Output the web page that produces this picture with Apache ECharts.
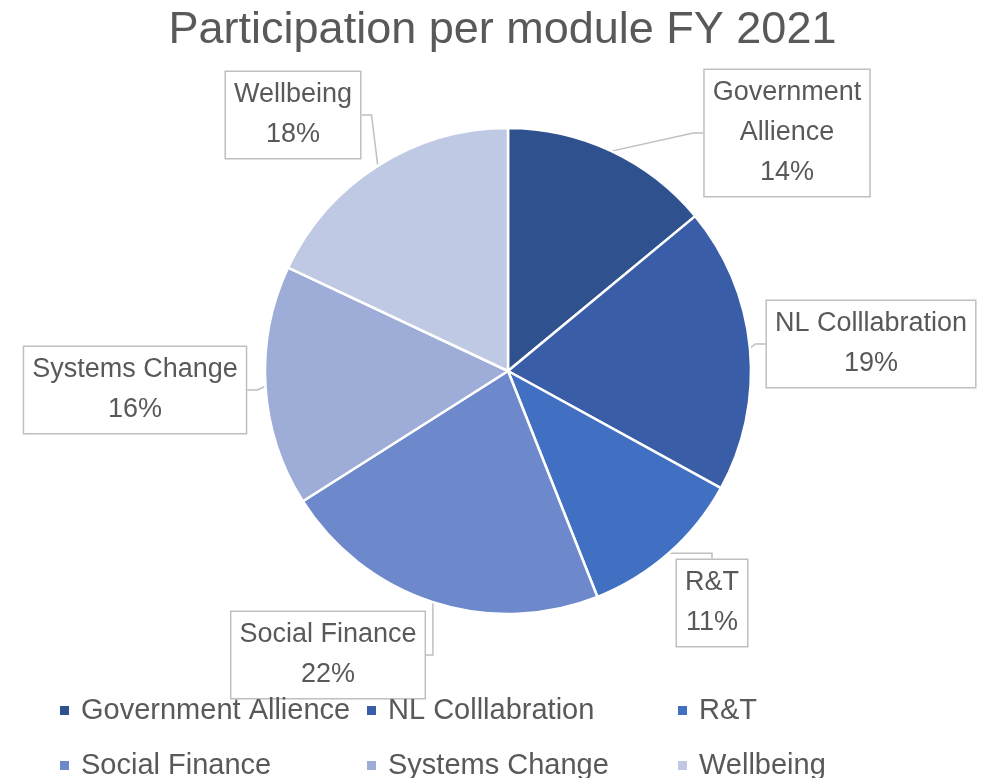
<!DOCTYPE html>
<html>
<head>
<meta charset="utf-8">
<script src="https://cdn.jsdelivr.net/npm/echarts@6/dist/echarts.min.js"></script>
<style>html,body{margin:0;padding:0;background:#fff;}#c{width:1005px;height:778px;}</style>
</head>
<body>
<div id="c"></div>
<script>
const titleText = 'Participation per module FY 2021';
const categories = ['Government Allience', 'NL Colllabration', 'R&T', 'Social Finance', 'Systems Change', 'Wellbeing'];
const labelNames = ['Government\nAllience', 'NL Colllabration', 'R&T', 'Social Finance', 'Systems Change', 'Wellbeing'];
const values = [14, 19, 11, 22, 16, 18];
const colors = ['#2F528F', '#3A5DA7', '#4170C2', '#6E89CB', '#9DADD8', '#C0C9E4'];

const labelPos = [[787, 133], [871, 344], [712, 603], [328, 655], [135, 390], [293, 115]];
const legendLeft = [58, 365, 676, 58, 365, 676];
const legendTop = [696, 696, 696, 751, 751, 751];
const FONT = 'Liberation Sans';

const chart = echarts.init(document.getElementById('c'), null, {renderer: 'canvas'});
const legendText = {fontSize: 29, color: '#595959', fontFamily: FONT, padding: [0, 0, 0, 6]};
chart.setOption({
  backgroundColor: '#fff',
  color: colors,
  title: {
    text: titleText, left: 'center', top: 3,
    textStyle: {fontSize: 45, fontWeight: 'normal', color: '#595959', fontFamily: FONT}
  },
  legend: categories.map((c, i) => ({
    data: [c], left: legendLeft[i], top: legendTop[i], padding: 0,
    itemWidth: 11, itemHeight: 11, icon: 'rect', textStyle: legendText, selectedMode: false
  })),
  series: [{
    type: 'pie',
    center: [508, 371],
    radius: 243,
    startAngle: 90,
    clockwise: true,
    percentPrecision: 0,
    animation: false,
    itemStyle: {borderColor: '#fff', borderWidth: 2.5},
    label: {
      show: true,
      formatter: p => labelNames[p.dataIndex] + '\n' + p.percent + '%',
      fontSize: 27, lineHeight: 40, color: '#595959', fontFamily: FONT,
      backgroundColor: '#fff', borderColor: '#bfbfbf', borderWidth: 1.5,
      padding: [4, 8, 2, 8], align: 'center'
    },
    labelLine: {show: true, lineStyle: {color: '#bfbfbf', width: 1.5}, length: 10, length2: 10},
    labelLayout: p => ({x: labelPos[p.dataIndex][0], y: labelPos[p.dataIndex][1], align: 'center', verticalAlign: 'middle'}),
    data: categories.map((c, i) => ({name: c, value: values[i]}))
  }]
});
</script>
</body>
</html>
